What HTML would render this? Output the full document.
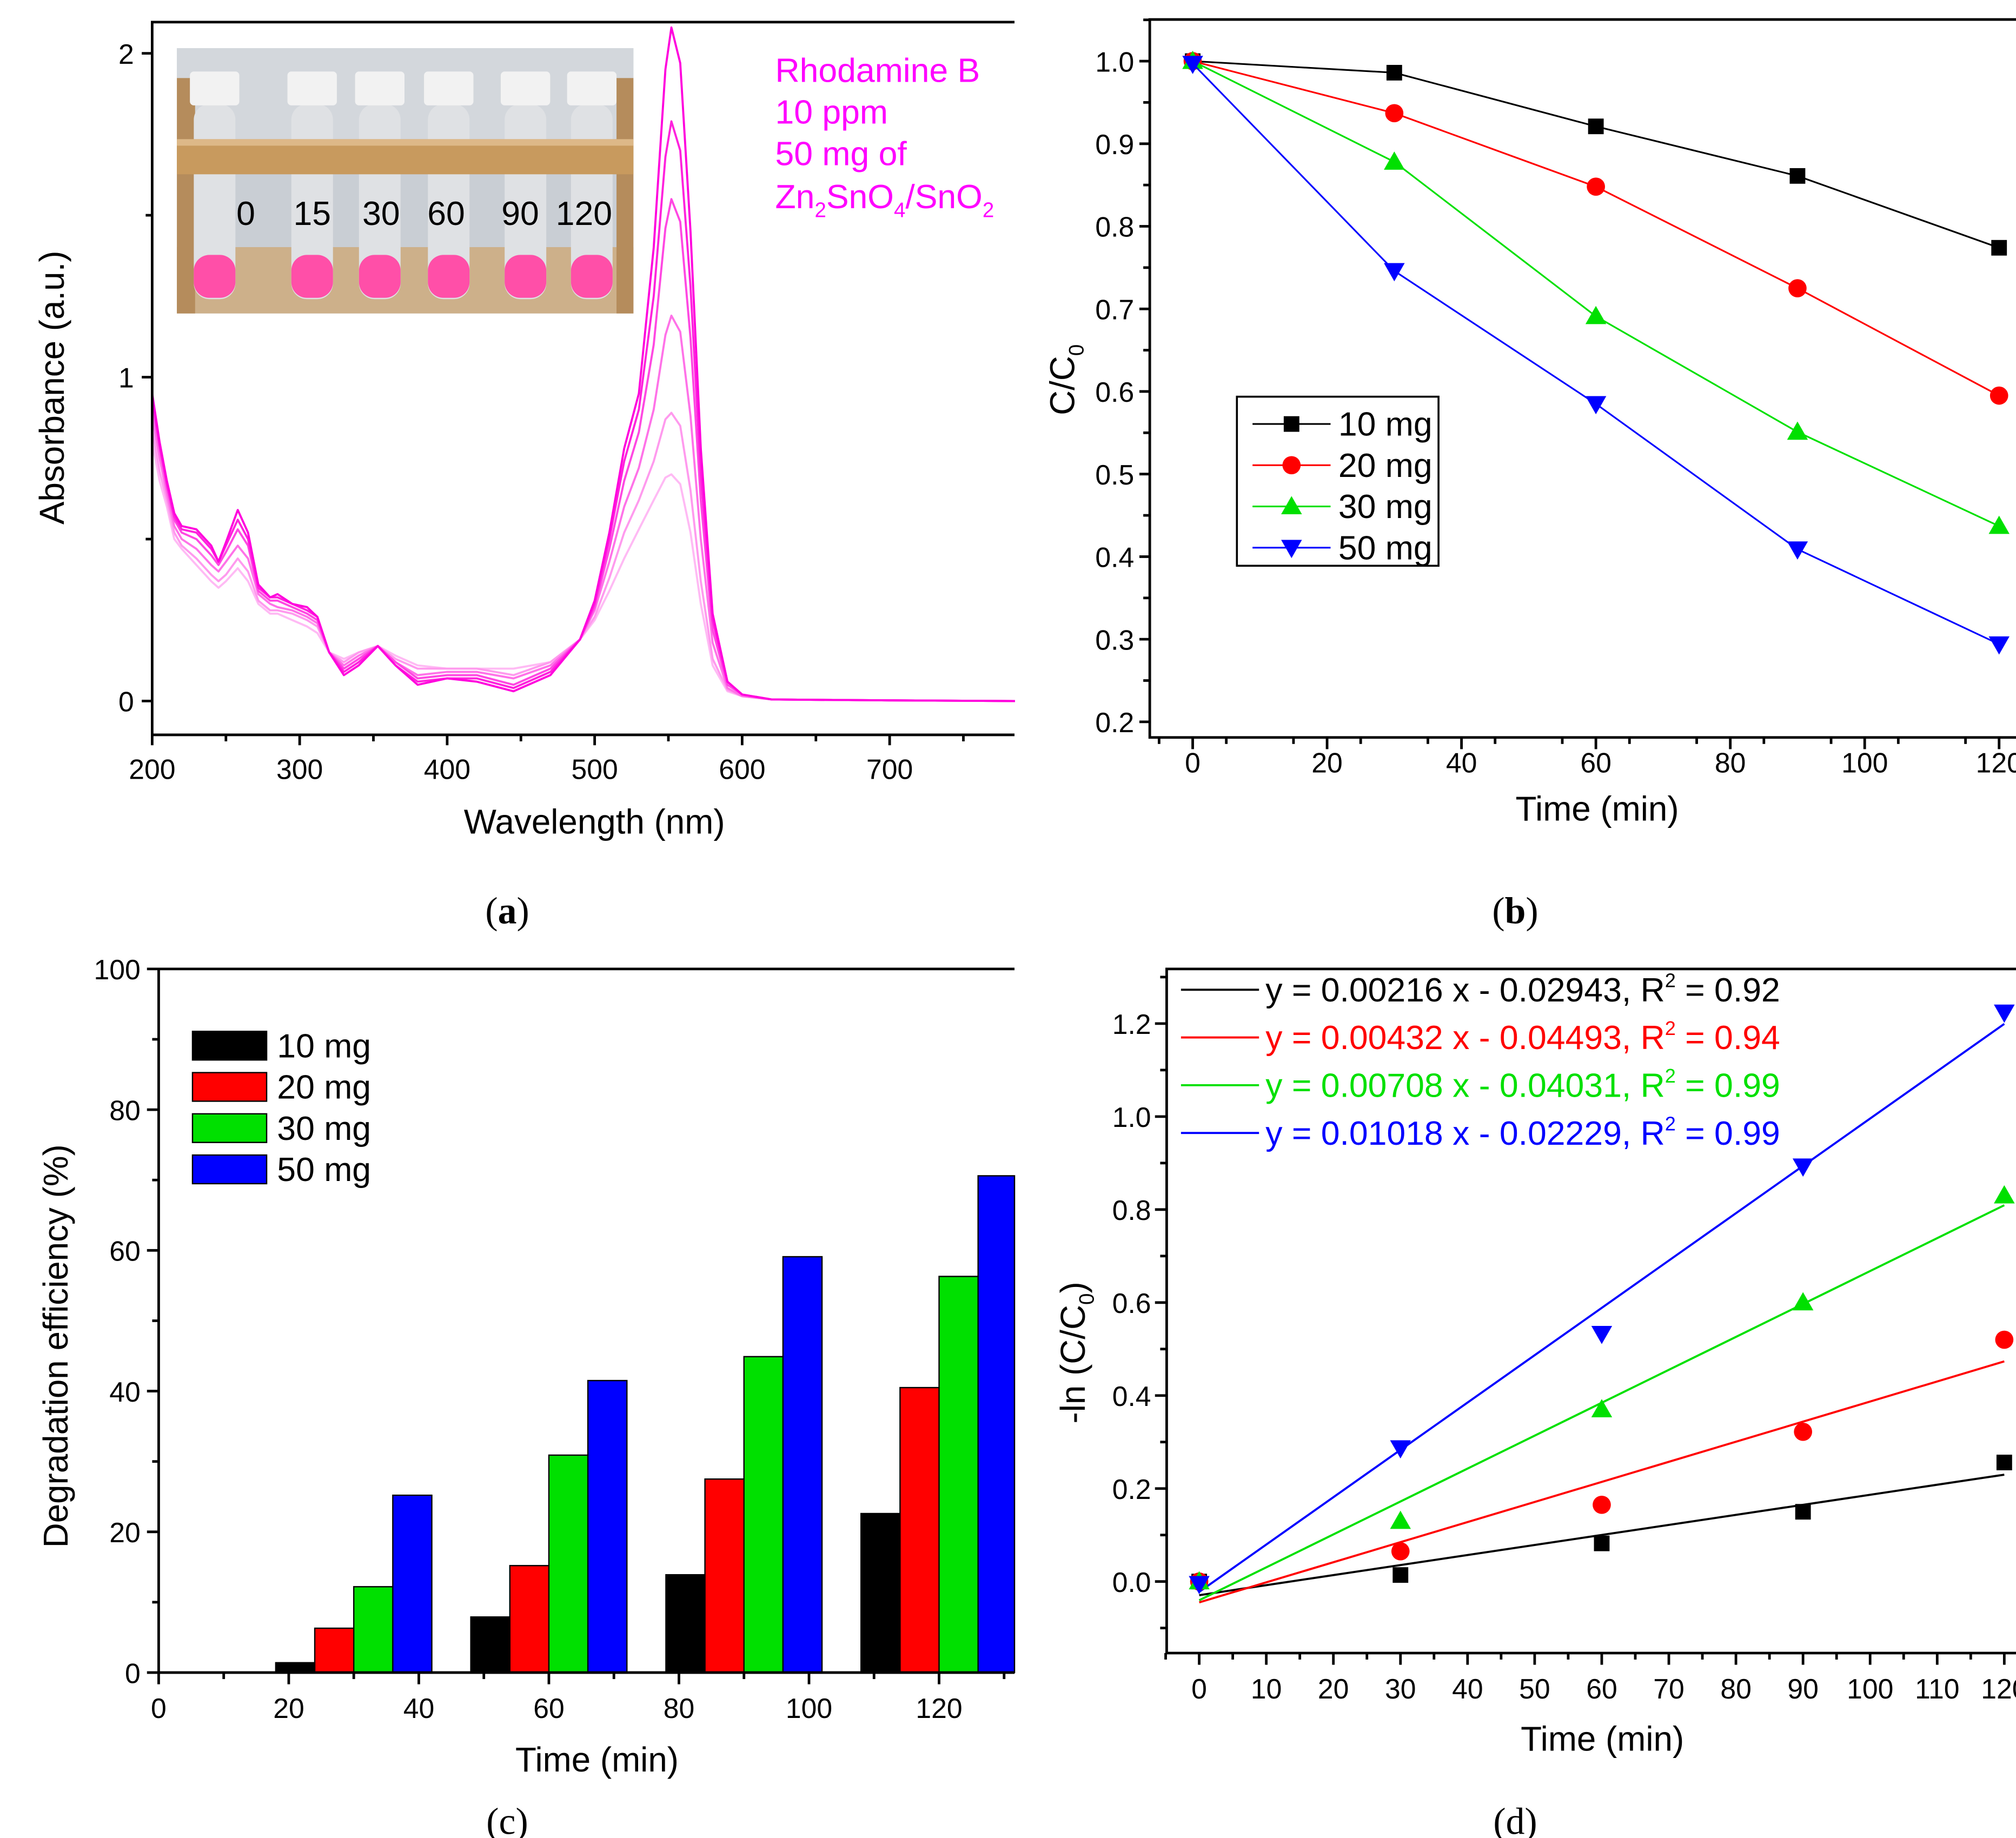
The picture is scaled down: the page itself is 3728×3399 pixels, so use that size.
<!DOCTYPE html>
<html><head><meta charset="utf-8"><style>
html,body{margin:0;padding:0;background:#fff;}
svg{display:block;font-family:"Liberation Sans",sans-serif;}
.tk{font-size:21.5px;fill:#000;}
.ttl{font-size:26.5px;fill:#000;}
.pl{font-size:29px;font-family:"Liberation Serif",serif;fill:#000;}
</style></head><body>
<svg id="fig" width="3728" height="3399" viewBox="0 0 1550 1413.2" xmlns="http://www.w3.org/2000/svg">
<text class="pl" x="390" y="710" text-anchor="middle">(<tspan font-weight="bold">a</tspan>)</text>
<text class="pl" x="1165" y="710" text-anchor="middle">(<tspan font-weight="bold">b</tspan>)</text>
<text class="pl" x="390" y="1410" text-anchor="middle">(c)</text>
<text class="pl" x="1165" y="1410" text-anchor="middle">(d)</text>
</svg>
<script>
// ---------- DATA ----------
const specWl=[200,205,210,215,220,230,240,245,250,258,265,272,280,285,295,305,312,320,330,340,353,365,380,400,420,445,470,490,500,510,520,530,540,548,552,558,565,572,580,590,600,620,700,785];
const spec0=[.95,.80,.68,.58,.54,.53,.48,.43,.49,.59,.52,.36,.32,.33,.30,.29,.26,.15,.08,.11,.17,.11,.05,.07,.06,.03,.08,.19,.31,.52,.78,.95,1.40,1.95,2.08,1.97,1.45,.78,.27,.06,.02,.005,.002,0];
const spec15=[.94,.79,.67,.57,.53,.52,.47,.43,.48,.56,.50,.35,.32,.32,.30,.28,.26,.15,.09,.12,.17,.11,.06,.07,.07,.04,.09,.19,.30,.50,.74,.90,1.25,1.68,1.79,1.70,1.28,.70,.25,.06,.02,.005,.002,0];
const spec30=[.92,.78,.66,.56,.52,.50,.45,.42,.46,.53,.48,.34,.31,.31,.29,.27,.25,.15,.10,.13,.17,.12,.07,.08,.08,.05,.10,.19,.29,.47,.68,.83,1.10,1.46,1.55,1.48,1.12,.62,.22,.05,.02,.005,.002,0];
const spec60=[.88,.75,.64,.54,.50,.47,.42,.40,.43,.48,.44,.33,.30,.29,.28,.26,.24,.15,.11,.14,.17,.12,.08,.09,.09,.07,.11,.19,.28,.43,.60,.72,.90,1.13,1.19,1.14,.88,.50,.18,.04,.015,.005,.002,0];
const spec90=[.84,.71,.62,.52,.48,.44,.39,.37,.39,.44,.40,.31,.28,.28,.27,.25,.23,.15,.12,.15,.17,.13,.10,.10,.10,.08,.12,.19,.26,.38,.52,.62,.74,.87,.89,.85,.65,.37,.13,.035,.015,.005,.002,0];
const spec120=[.80,.68,.60,.50,.47,.42,.37,.35,.37,.41,.37,.30,.27,.27,.25,.23,.21,.15,.13,.15,.17,.14,.11,.10,.10,.10,.12,.19,.25,.34,.44,.53,.62,.69,.70,.67,.52,.30,.11,.03,.015,.005,.002,0];
const aXTicks=[200,300,400,500,600,700];
const aYTicks=[0,1,2];
const tubeLabels=["0","15","30","60","90","120"];

const times=[0,30,60,90,120];
const cc10=[1.0,0.986,0.921,0.861,0.774];
const cc20=[1.0,0.937,0.848,0.725,0.595];
const cc30=[1.0,0.878,0.691,0.551,0.437];
const cc50=[0.997,0.746,0.585,0.409,0.294];
const bXTicks=[0,20,40,60,80,100,120];
const bYTicks=[0.2,0.3,0.4,0.5,0.6,0.7,0.8,0.9,1.0];
const seriesNames=["10 mg","20 mg","30 mg","50 mg"];

const barTimes=[30,60,90,120];
const de10=[1.4,7.9,13.9,22.6];
const de20=[6.3,15.2,27.5,40.5];
const de30=[12.2,30.9,44.9,56.3];
const de50=[25.2,41.5,59.1,70.6];
const cXTicks=[0,20,40,60,80,100,120];
const cYTicks=[0,20,40,60,80,100];

const ln10=[0.0,0.014,0.082,0.150,0.256];
const ln20=[0.0,0.065,0.165,0.322,0.520];
const ln30=[0.0,0.130,0.370,0.600,0.830];
const ln50=[-0.005,0.287,0.533,0.893,1.224];
const fitSlopes=[0.00216,0.00432,0.00708,0.01018];
const fitInts=[-0.02943,-0.04493,-0.04031,-0.02229];
const fitR2=["0.92","0.94","0.99","0.99"];
const dXTicks=[0,10,20,30,40,50,60,70,80,90,100,110,120];
const dYTicks=[0.0,0.2,0.4,0.6,0.8,1.0,1.2];

// ---------- helpers ----------
const NS="http://www.w3.org/2000/svg";
const svg=document.getElementById('fig');
function mk(tag,attrs,parent){const e=document.createElementNS(NS,tag);for(const k in attrs)e.setAttribute(k,attrs[k]);(parent||svg).appendChild(e);return e;}
function lin(d0,d1,r0,r1){return v=>r0+(v-d0)*(r1-r0)/(d1-d0);}
const COLS=["#000000","#ff0000","#00e000","#0000ff"];

function marker(kind,x,y,col,g,nm){
  let e;
  if(kind===0){e=mk('rect',{x:x-6,y:y-6,width:12,height:12,fill:col},g);}
  else if(kind===1){e=mk('circle',{cx:x,cy:y,r:7,fill:col},g);}
  else if(kind===2){e=mk('polygon',{points:`${x},${y-8} ${x+8},${y+6} ${x-8},${y+6}`,fill:col},g);}
  else {e=mk('polygon',{points:`${x},${y+8} ${x+8},${y-6} ${x-8},${y-6}`,fill:col},g);}
  
  
  return e;
}

// ================= PANEL A =================
(function(){
  const g=mk('g',{});
  
  
  const X=lin(200,700,117,684), Y=lin(0,2,539,41);
  const L=117,T=17,R=780,B=565;
  const ph=mk('g',{},g);
  
  
  mk('rect',{x:136,y:37,width:351,height:204,fill:'#c9ced4'},ph);
  mk('rect',{x:136,y:37,width:351,height:70,fill:'#d3d7dc'},ph);
  mk('rect',{x:136,y:190,width:351,height:51,fill:'#cdb08a'},ph);
  mk('rect',{x:136,y:60,width:14,height:181,fill:'#b58c5c'},ph);
  mk('rect',{x:474,y:60,width:13,height:181,fill:'#b58c5c'},ph);
  const tubeX=[165,240,292,345,404,455];
  for(let i=0;i<6;i++){
    const tx=tubeX[i];
    mk('rect',{x:tx-16,y:80,width:32,height:150,rx:12,fill:'#dfe1e4'},ph);
    mk('rect',{x:tx-16,y:196,width:32,height:33,rx:12,fill:'#ff4fa8'},ph);
    mk('rect',{x:tx-19,y:55,width:38,height:26,rx:3,fill:'#f2f2f2'},ph);
  }
  mk('rect',{x:136,y:107,width:351,height:27,fill:'#c89a5e'},ph);
  mk('rect',{x:136,y:107,width:351,height:5,fill:'#ddb888'},ph);
  const labX=[189,240,293,343,400,449];
  for(let i=0;i<6;i++){
    const t=mk('text',{x:labX[i],y:173,'text-anchor':'middle','font-size':26,fill:'#000'},ph);
    t.textContent=tubeLabels[i];
    
    
  }
  const specs=[spec0,spec15,spec30,spec60,spec90,spec120];
  const cols=["#ff00dd","#ff22dd","#ff48e2","#ff72e8","#ff9aee","#ffbaf4"];
  for(let s=specs.length-1;s>=0;s--){
    const pts=specWl.map((w,i)=>X(w).toFixed(1)+','+Y(specs[s][i]).toFixed(1)).join(' ');
    const p=mk('polyline',{points:pts,fill:'none',stroke:cols[s],'stroke-width':1.6,'stroke-linejoin':'round'},g);
    
    
  }
  const ax=mk('path',{d:`M${R},${T}H${L}V${B}H${R}`,fill:'none',stroke:'#000','stroke-width':2},g);
  
  
  for(const v of aXTicks){
    mk('line',{x1:X(v),x2:X(v),y1:B,y2:B+8,stroke:'#000','stroke-width':2},g);
    mk('line',{x1:X(v+50),x2:X(v+50),y1:B,y2:B+5,stroke:'#000','stroke-width':2},g);
    const t=mk('text',{x:X(v),y:B+34,'text-anchor':'middle',class:'tk'},g);
    t.textContent=v;
    
    
  }
  for(const v of aYTicks){
    mk('line',{x1:L-8,x2:L,y1:Y(v),y2:Y(v),stroke:'#000','stroke-width':2},g);
    mk('line',{x1:L-5,x2:L,y1:Y(v+0.5),y2:Y(v+0.5),stroke:'#000','stroke-width':2},g);
    const t=mk('text',{x:L-14,y:Y(v)+8,'text-anchor':'end',class:'tk'},g);
    t.textContent=v;
    
    
  }
  const xt=mk('text',{x:457,y:641,'text-anchor':'middle',class:'ttl'},g);
  xt.textContent='Wavelength (nm)';
  
  
  const yt=mk('text',{x:0,y:0,'text-anchor':'middle',class:'ttl',transform:'translate(49,298) rotate(-90)'},g);
  yt.textContent='Absorbance (a.u.)';
  
  
  const ann=mk('text',{x:596,y:63,'font-size':26,fill:'#ff00ff'},g);
  
  
  ann.innerHTML='<tspan x="596" y="63">Rhodamine B</tspan><tspan x="596" y="95">10 ppm</tspan><tspan x="596" y="127">50 mg of</tspan><tspan x="596" y="160">Zn<tspan font-size="16" dy="7">2</tspan><tspan dy="-7">SnO</tspan><tspan font-size="16" dy="7">4</tspan><tspan dy="-7">/SnO</tspan><tspan font-size="16" dy="7">2</tspan></tspan>';
})();

// ================= PANEL B =================
(function(){
  const g=mk('g',{});
  
  
  const X=lin(0,120,917,1537), Y=lin(0.2,1.0,555,47);
  const L=884,T=15,R=1552,B=567;
  const data=[cc10,cc20,cc30,cc50];
  for(let s=0;s<4;s++){
    const pts=times.map((t,i)=>X(t)+','+Y(data[s][i])).join(' ');
    const p=mk('polyline',{points:pts,fill:'none',stroke:COLS[s],'stroke-width':1.3},g);
    
    
    times.forEach((t,i)=>marker(s,X(t),Y(data[s][i]),COLS[s],g,'point-'+seriesNames[s].replace(' ','')));
  }
  const ax=mk('path',{d:`M${R},${T}H${L}V${B}H${R}`,fill:'none',stroke:'#000','stroke-width':2},g);
  
  
  for(let v=-5;v<=125;v+=10){mk('line',{x1:X(v),x2:X(v),y1:B,y2:B+5,stroke:'#000','stroke-width':2},g);}
  for(const v of bXTicks){
    mk('line',{x1:X(v),x2:X(v),y1:B,y2:B+9,stroke:'#000','stroke-width':2},g);
    const t=mk('text',{x:X(v),y:B+27,'text-anchor':'middle',class:'tk'},g);
    t.textContent=v;
    
    
  }
  for(const v of bYTicks){
    mk('line',{x1:L-8,x2:L,y1:Y(v),y2:Y(v),stroke:'#000','stroke-width':2},g);
    mk('line',{x1:L-5,x2:L,y1:Y(v+0.05),y2:Y(v+0.05),stroke:'#000','stroke-width':2},g);
    const t=mk('text',{x:L-12,y:Y(v)+8,'text-anchor':'end',class:'tk'},g);
    t.textContent=v.toFixed(1);
    
    
  }
  const xt=mk('text',{x:1228,y:631,'text-anchor':'middle',class:'ttl'},g);
  xt.textContent='Time (min)';
  
  
  const yt=mk('text',{x:0,y:0,'text-anchor':'middle',class:'ttl',transform:'translate(826,292) rotate(-90)'},g);
  yt.innerHTML='C/C<tspan font-size="16" dy="7">0</tspan>';
  
  
  const lg=mk('g',{},g);
  
  
  mk('rect',{x:951,y:305,width:155,height:130,fill:'#fff',stroke:'#000','stroke-width':1.5},lg);
  for(let s=0;s<4;s++){
    const y=326+s*31.7;
    mk('line',{x1:963,x2:1023,y1:y,y2:y,stroke:COLS[s],'stroke-width':1.3},lg);
    marker(s,993,y,COLS[s],lg,'legend-marker');
    const t=mk('text',{x:1029,y:y+9,'font-size':26,fill:'#000'},lg);
    t.textContent=seriesNames[s];
    
    
  }
})();

// ================= PANEL C =================
(function(){
  const g=mk('g',{});
  
  
  const X=lin(0,120,122,722), Y=lin(0,100,1286,745);
  const L=122,T=745,R=780,B=1286;
  const data=[de10,de20,de30,de50];
  const bw=6;
  for(let s=0;s<4;s++){
    barTimes.forEach((t,i)=>{
      const x0=X(t-12+s*bw), x1=X(t-12+(s+1)*bw);
      const b=mk('rect',{x:x0,y:Y(data[s][i]),width:Math.max(0,Math.min(x1,R)-x0),height:B-Y(data[s][i]),fill:COLS[s],stroke:'#000','stroke-width':1},g);
      
      
    });
  }
  const ax=mk('path',{d:`M${R},${T}H${L}V${B}H${R}`,fill:'none',stroke:'#000','stroke-width':2},g);
  
  
  for(let v=10;v<=130;v+=20){mk('line',{x1:X(v),x2:X(v),y1:B,y2:B+5,stroke:'#000','stroke-width':2},g);}
  for(const v of cXTicks){
    mk('line',{x1:X(v),x2:X(v),y1:B,y2:B+9,stroke:'#000','stroke-width':2},g);
    const t=mk('text',{x:X(v),y:B+35,'text-anchor':'middle',class:'tk'},g);
    t.textContent=v;
    
    
  }
  for(const v of cYTicks){
    mk('line',{x1:L-9,x2:L,y1:Y(v),y2:Y(v),stroke:'#000','stroke-width':2},g);
    if(v<100)mk('line',{x1:L-5,x2:L,y1:Y(v+10),y2:Y(v+10),stroke:'#000','stroke-width':2},g);
    const t=mk('text',{x:L-14,y:Y(v)+8,'text-anchor':'end',class:'tk'},g);
    t.textContent=v;
    
    
  }
  const xt=mk('text',{x:459,y:1362,'text-anchor':'middle',class:'ttl'},g);
  xt.textContent='Time (min)';
  
  
  const yt=mk('text',{x:0,y:0,'text-anchor':'middle',class:'ttl',transform:'translate(52,1035) rotate(-90)'},g);
  yt.textContent='Degradation efficiency (%)';
  
  
  const lg=mk('g',{},g);
  
  
  for(let s=0;s<4;s++){
    const y=804+s*31.7;
    const r=mk('rect',{x:148,y:y-11,width:57,height:22,fill:COLS[s],stroke:'#000','stroke-width':1},lg);
    
    
    const t=mk('text',{x:213,y:y+9,'font-size':26,fill:'#000'},lg);
    t.textContent=seriesNames[s];
    
    
  }
})();

// ================= PANEL D =================
(function(){
  const g=mk('g',{});
  
  
  const X=lin(0,120,922,1541), Y=lin(0,1.2,1216,787);
  const L=897,T=745,R=1552,B=1271;
  const data=[ln10,ln20,ln30,ln50];
  for(let s=0;s<4;s++){
    const f=mk('line',{x1:X(0),y1:Y(fitInts[s]),x2:X(120),y2:Y(fitInts[s]+fitSlopes[s]*120),stroke:COLS[s],'stroke-width':1.6},g);
    
    
  }
  for(let s=0;s<4;s++){
    times.forEach((t,i)=>marker(s,X(t),Y(data[s][i]),COLS[s],g,'point-'+seriesNames[s].replace(' ','')));
  }
  const ax=mk('path',{d:`M${R},${T}H${L}V${B}H${R}`,fill:'none',stroke:'#000','stroke-width':2},g);
  
  
  for(let v=-5;v<=125;v+=10){mk('line',{x1:X(v),x2:X(v),y1:B,y2:B+5,stroke:'#000','stroke-width':2},g);}
  for(const v of dXTicks){
    mk('line',{x1:X(v),x2:X(v),y1:B,y2:B+9,stroke:'#000','stroke-width':2},g);
    const t=mk('text',{x:X(v),y:B+35,'text-anchor':'middle',class:'tk'},g);
    t.textContent=v;
    
    
  }
  for(let v=-0.1;v<=1.35;v+=0.2){mk('line',{x1:L-5,x2:L,y1:Y(v),y2:Y(v),stroke:'#000','stroke-width':2},g);}
  for(const v of dYTicks){
    mk('line',{x1:L-9,x2:L,y1:Y(v),y2:Y(v),stroke:'#000','stroke-width':2},g);
    const t=mk('text',{x:L-12,y:Y(v)+8,'text-anchor':'end',class:'tk'},g);
    t.textContent=v.toFixed(1);
    
    
  }
  const xt=mk('text',{x:1232,y:1346,'text-anchor':'middle',class:'ttl'},g);
  xt.textContent='Time (min)';
  
  
  const yt=mk('text',{x:0,y:0,'text-anchor':'middle',class:'ttl',transform:'translate(834,1040) rotate(-90)'},g);
  yt.innerHTML='-ln (C/C<tspan font-size="16" dy="7">0</tspan><tspan dy="-7">)</tspan>';
  
  
  const lg=mk('g',{},g);
  
  
  for(let s=0;s<4;s++){
    const y=761+s*36.7;
    mk('line',{x1:908,x2:968,y1:y,y2:y,stroke:COLS[s],'stroke-width':1.6},lg);
    const t=mk('text',{x:973,y:y+9,'font-size':26,fill:COLS[s]},lg);
    const sgn=fitInts[s]<0?' - ':' + ';
    t.innerHTML='y = '+fitSlopes[s].toFixed(5)+' x'+sgn+Math.abs(fitInts[s]).toFixed(5)+', R<tspan font-size="15" dy="-11">2</tspan><tspan dy="11"> = '+fitR2[s]+'</tspan>';
    
    
  }
})();
</script>
</body></html>
